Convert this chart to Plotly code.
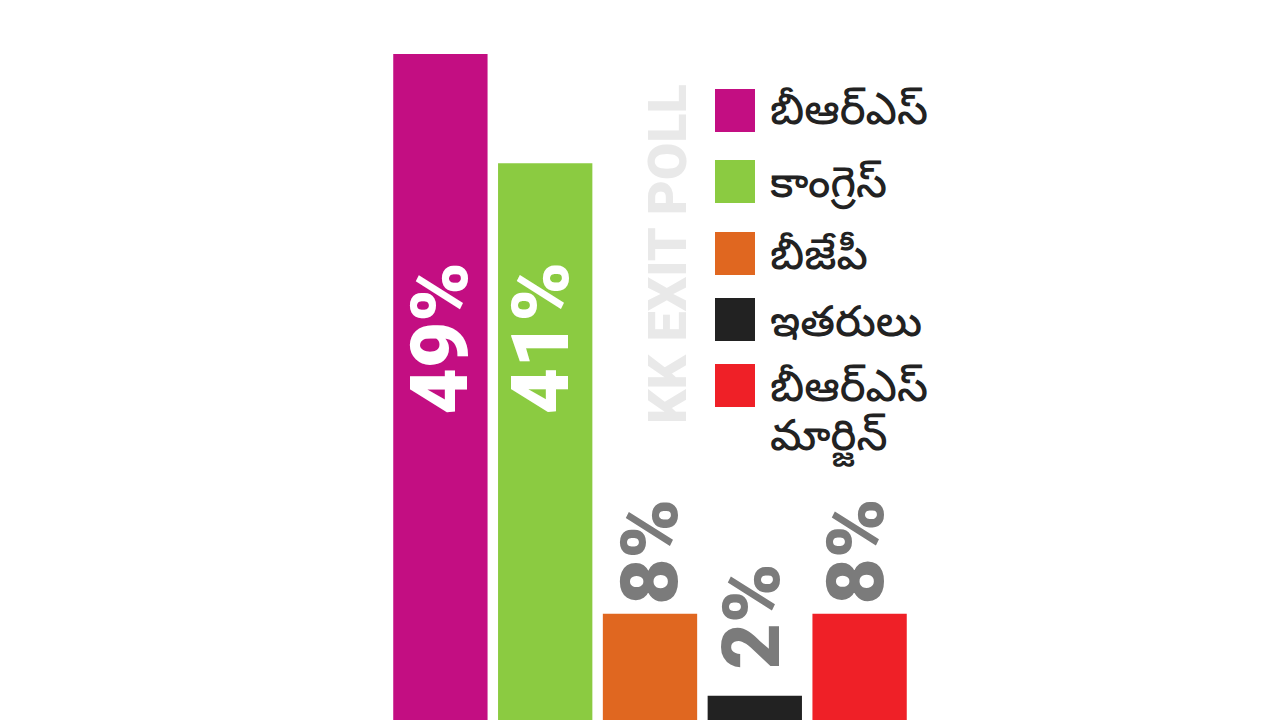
import plotly.graph_objects as go

parties = [["బీఆర్ఎస్"], ["కాంగ్రెస్"], ["బీజేపీ"], ["ఇతరులు"], ["బీఆర్ఎస్", "మార్జిన్"]]
shares = [49, 41, 8, 2, 8]
labels = ["49%", "41%", "8%", "2%", "8%"]
colors = ["#c30e82", "#8bcb41", "#e06720", "#222222", "#ef2027"]
label_colors = ["#ffffff", "#ffffff", "#7b7b7b", "#7b7b7b", "#7b7b7b"]
watermark = "KK EXIT POLL"

# page coordinates of the plot area, the bars run off the bottom like the original
LEFT, RIGHT = 388, 912
TOP, BOTTOM = 54, 723
BODY_MARGIN = 8  # the html page pushes the figure 8px in


def paper_x(px):
    return (px - LEFT) / (RIGHT - LEFT)


def paper_y(px):
    return (BOTTOM - px) / (BOTTOM - TOP)


fig = go.Figure()
fig.add_trace(go.Bar(
    x=list(range(len(shares))), y=shares,
    marker=dict(color=colors, line_width=0),
    width=0.9,
    showlegend=False,
))

# value labels: the two big ones share a baseline, so they are placed by hand
label_font = "Roboto"
for i, (label, color) in enumerate(zip(labels, label_colors)):
    if i < 2:
        pos = dict(y=paper_y(415), yref="paper", yanchor="bottom", xshift=[0, -4][i])
    else:
        gap = 25 if shares[i] == 2 else 8
        pos = dict(y=shares[i], yref="y", yanchor="bottom", yshift=gap, xshift=[0, 0, 0, -3, -4][i])
    fig.add_annotation(x=i, xref="x", text=label, showarrow=False, textangle=-90, borderpad=0,
                       font=dict(family=label_font, size=80, color=color, weight=900), **pos)

# legend is drawn by hand so the swatches can sit at the original's spacing
swatch_y = [110.5, 181.5, 253.5, 319.5, 385.5]
text_y = [[116], [189], [260], [328], [393, 442]]
for lines, color, y, ys in zip(parties, colors, swatch_y, text_y):
    fig.add_shape(type="rect", xref="paper", yref="paper", line_width=0, fillcolor=color,
                  x0=paper_x(715), x1=paper_x(755), y0=paper_y(y + 21.5), y1=paper_y(y - 21.5))
    for line, ty in zip(lines, ys):
        fig.add_annotation(xref="paper", yref="paper", text=line, showarrow=False,
                           x=paper_x(768), xanchor="left", y=paper_y(ty), yanchor="middle",
                           font=dict(family="Noto Sans Telugu, Noto Sans", size=43, color="#222222", weight=500))

fig.add_annotation(xref="paper", yref="paper", text=watermark, showarrow=False, textangle=-90,
                   x=paper_x(667), y=paper_y(254), yanchor="middle",
                   font=dict(family=label_font, size=54, color="#e9e9e9", weight=900))

fig.update_layout(
    width=1280, height=720, paper_bgcolor="white", plot_bgcolor="white",
    margin=dict(l=LEFT - BODY_MARGIN, r=1280 - RIGHT + BODY_MARGIN, t=TOP - BODY_MARGIN,
                b=720 + BODY_MARGIN - BOTTOM),
    xaxis=dict(visible=False, range=[-0.5, 4.5]),
    yaxis=dict(visible=False, range=[0, 49]),
    bargap=0.1,
)
fig.write_html("out.html")
